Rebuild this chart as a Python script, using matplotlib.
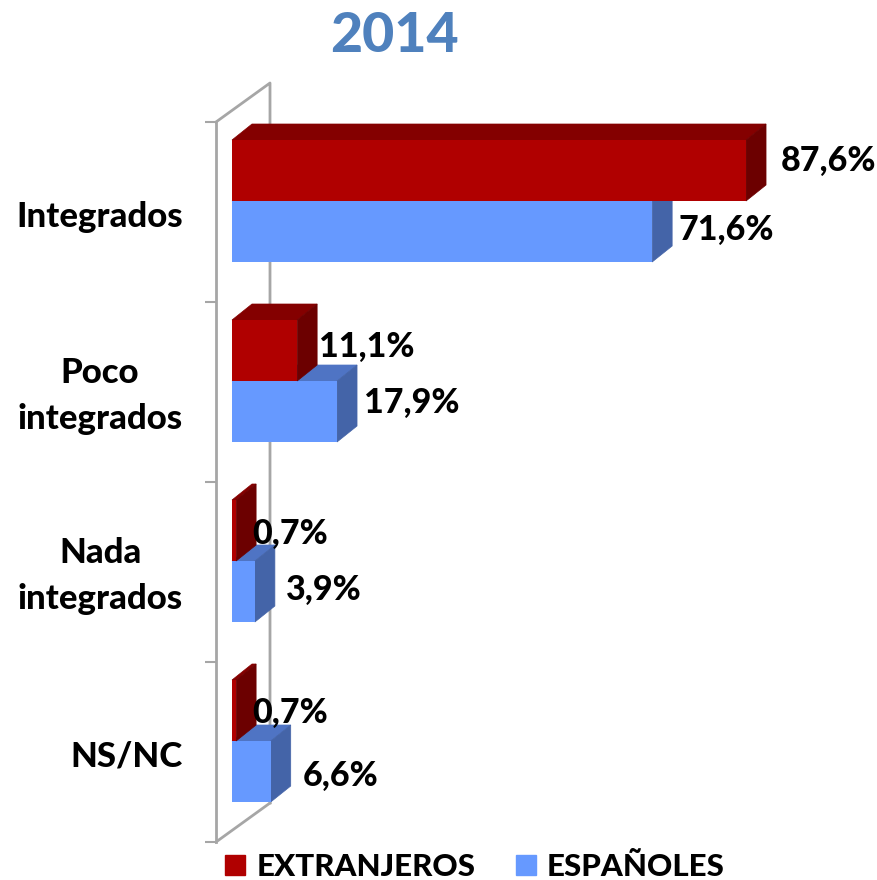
import matplotlib
matplotlib.use('Agg')
import matplotlib.pyplot as plt
from matplotlib.patches import Polygon, Patch

plt.rcParams['font.family'] = ['Lato', 'DejaVu Sans']
plt.rcParams['font.weight'] = 900

categories = ['Integrados', 'Poco\nintegrados', 'Nada\nintegrados', 'NS/NC']
extranjeros = [87.6, 11.1, 0.7, 0.7]
espanoles = [71.6, 17.9, 3.9, 6.6]

W, H = 878, 880
px_per_pct = 5.868
px_per_group = 180.0
bar_h = 61 / px_per_group
depth_x = 20 / px_per_pct
depth_y = 16 / px_per_group
wall_x = 54 / px_per_pct
wall_y = 39 / px_per_group
first_bar_edge = 79 / px_per_group  # red/blue boundary inside a group

# category label position inside each group
label_pos = [0.51, 0.465, 0.465, 0.51]
# label offsets from the bar end, in pixels (dx, dy up)
red_off = [(36, 10), (23, 4), (17, -3), (17, -2)]
blue_off = [(27, 2), (28, 9), (32, 2), (33, -4)]

fig = plt.figure(figsize=(W / 100, H / 100), dpi=100)
ax = fig.add_axes([216 / W, 1 - 842 / H, (W - 216) / W, 720 / H])
ax.set_xlim(-16 / px_per_pct, (W - 232) / px_per_pct)
ax.set_ylim(4, 0)
ax.patch.set_alpha(0)

grey = '#a6a6a6'
for s in ['top', 'right', 'bottom']:
    ax.spines[s].set_visible(False)
ax.spines['left'].set_color(grey)
ax.spines['left'].set_linewidth(2)

x0 = ax.get_xlim()[0]
ax.plot([x0, x0 + wall_x, x0 + wall_x], [0, -wall_y, 4 - wall_y], color=grey, lw=2, clip_on=False)
ax.plot([x0, x0 + wall_x], [4, 4 - wall_y], color=grey, lw=2, clip_on=False)

ax.set_xticks([])
ax.set_yticks(range(5))
ax.set_yticklabels([])
ax.tick_params(axis='y', which='major', length=8, width=1.5, color=grey, direction='out')
ax.set_yticks([i + label_pos[i] for i in range(4)], minor=True)
ax.set_yticklabels(categories, minor=True, fontsize=25, ma='center', linespacing=1.55)
ax.tick_params(axis='y', which='minor', length=0, pad=24)


def bar3d(val, top, front, top_c, side_c):
    bot = top + bar_h
    ax.add_patch(Polygon([(0, top), (depth_x, top - depth_y), (val + depth_x, top - depth_y), (val, top)],
                         fc=top_c, ec=top_c, lw=0.5, zorder=3, clip_on=False))
    ax.add_patch(Polygon([(val, top), (val + depth_x, top - depth_y), (val + depth_x, bot - depth_y), (val, bot)],
                         fc=side_c, ec=side_c, lw=0.5, zorder=3, clip_on=False))
    ax.barh(top + bar_h / 2, val, height=bar_h, color=front, zorder=3)


red, red_top, red_side = '#b00000', '#840000', '#6c0000'
blue, blue_top, blue_side = '#6699ff', '#4f74c4', '#4464a8'

for i in range(4):
    mid = i + first_bar_edge
    bar3d(espanoles[i], mid, blue, blue_top, blue_side)
    bar3d(extranjeros[i], mid - bar_h, red, red_top, red_side)
    for val, yc, off in [(extranjeros[i], mid - bar_h / 2, red_off[i]), (espanoles[i], mid + bar_h / 2, blue_off[i])]:
        txt = f'{val:.1f}%'.replace('.', ',')
        ax.annotate(txt, (val, yc), xytext=((off[0] - 1) * 0.72, off[1] * 0.72), textcoords='offset points',
                    fontsize=24.5, ha='left', va='center', color='black', zorder=5, annotation_clip=False)

fig.text(394 / W, 1 - 36 / H, '2014', color='#4f81bd', fontsize=40, ha='center', va='center')

handles = [Patch(color=red, label='EXTRANJEROS'), Patch(color=blue, label='ESPAÑOLES')]
fig.legend(handles=handles, loc='center', bbox_to_anchor=(475 / W, 1 - 867 / H), ncol=2, frameon=False,
           fontsize=22.5, handlelength=0.64, handleheight=0.64, handletextpad=0.36, columnspacing=1.3,
           borderpad=0, borderaxespad=0)

fig.savefig('out.png', dpi=100)
